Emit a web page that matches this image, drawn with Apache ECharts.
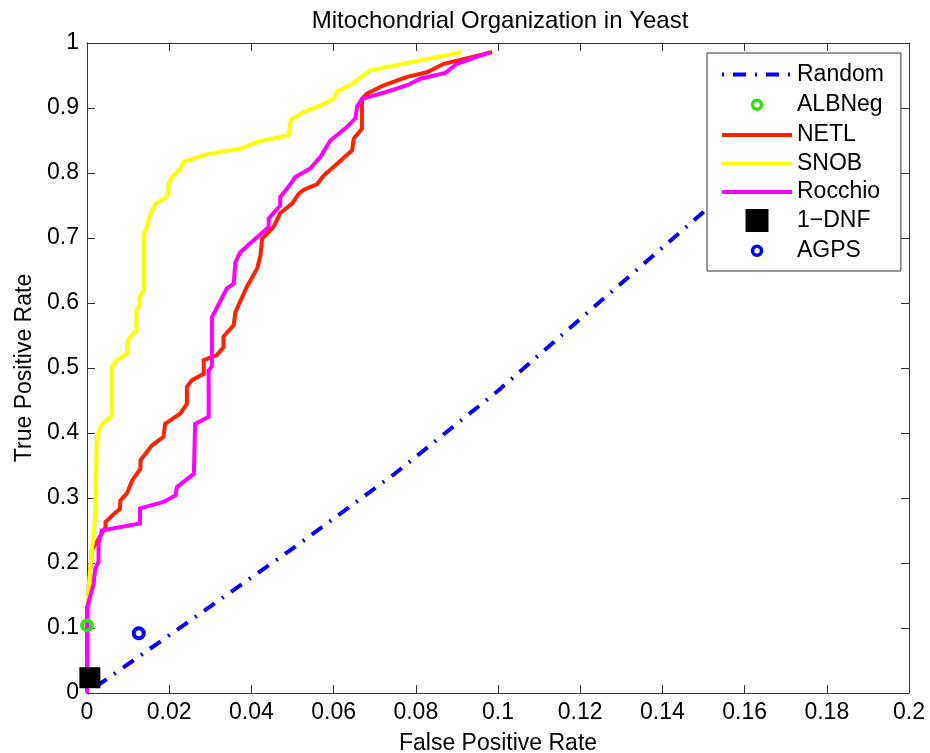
<!DOCTYPE html>
<html>
<head>
<meta charset="utf-8">
<title>Mitochondrial Organization in Yeast</title>
<script src="https://cdn.jsdelivr.net/npm/echarts@6/dist/echarts.min.js"></script>
<style>
  html, body { margin: 0; padding: 0; background: #fff; }
  #chart { width: 930px; height: 753px; }
</style>
</head>
<body>
<div id="chart"></div>
<script>
// ---- data -------------------------------------------------------------
const seriesNames = ['Random', 'ALBNeg', 'NETL', 'SNOB', 'Rocchio', '1\u2212DNF', 'AGPS'];

const xTickLabels = ['0', '0.02', '0.04', '0.06', '0.08', '0.1', '0.12', '0.14', '0.16', '0.18', '0.2'];
const yTickLabels = ['0', '0.1', '0.2', '0.3', '0.4', '0.5', '0.6', '0.7', '0.8', '0.9', '1'];

// Random-classifier reference line (FPR, TPR)
const randomFpr = [0, 0.025, 0.05, 0.075, 0.1, 0.125, 0.15, 0.175];
const randomTpr = [0, 0.111, 0.222, 0.338, 0.465, 0.603, 0.74, 0.885];

// ROC curves as [FPR, TPR] pairs
const netlRoc = [
  [0, 0], [0.0004, 0.163], [0.0012, 0.22], [0.0045, 0.255], [0.0045, 0.263],
  [0.007, 0.278], [0.008, 0.283], [0.0081, 0.296], [0.0097, 0.307], [0.011, 0.327],
  [0.013, 0.345], [0.013, 0.358], [0.0158, 0.381], [0.0186, 0.394], [0.019, 0.414],
  [0.0227, 0.43], [0.0243, 0.445], [0.0243, 0.471], [0.0255, 0.481], [0.0284, 0.491],
  [0.0284, 0.512], [0.0316, 0.52], [0.0332, 0.532], [0.0332, 0.548], [0.0357, 0.566],
  [0.0361, 0.586], [0.0389, 0.625], [0.0414, 0.653], [0.0422, 0.673], [0.0426, 0.699],
  [0.0454, 0.717], [0.047, 0.738], [0.0499, 0.753], [0.0515, 0.768], [0.0527, 0.774],
  [0.056, 0.783], [0.0576, 0.796], [0.0608, 0.814], [0.0645, 0.835], [0.0649, 0.853],
  [0.0669, 0.868], [0.0669, 0.914], [0.0681, 0.922], [0.0722, 0.935], [0.0779, 0.948],
  [0.0827, 0.955], [0.0868, 0.968], [0.0986, 0.986]
];

const snobRoc = [
  [0, 0], [0.0002, 0.142], [0.0008, 0.194], [0.0016, 0.245], [0.002, 0.276],
  [0.0024, 0.394], [0.0034, 0.412], [0.006, 0.427], [0.006, 0.502], [0.0073, 0.512],
  [0.0097, 0.522], [0.0097, 0.538], [0.0105, 0.548], [0.012, 0.558], [0.012, 0.589],
  [0.0128, 0.596], [0.0128, 0.609], [0.0138, 0.62], [0.0138, 0.707], [0.0146, 0.717],
  [0.015, 0.73], [0.0166, 0.753], [0.019, 0.761], [0.0198, 0.771], [0.0198, 0.784],
  [0.0207, 0.794], [0.0227, 0.807], [0.0235, 0.817], [0.0292, 0.829], [0.0377, 0.838],
  [0.0414, 0.848], [0.049, 0.858], [0.0496, 0.882], [0.0527, 0.894], [0.0568, 0.904],
  [0.06, 0.914], [0.0608, 0.925], [0.064, 0.935], [0.0689, 0.958], [0.0912, 0.986]
];

const rocchioRoc = [
  [0, 0], [0, 0.132], [0.0012, 0.158], [0.0016, 0.168], [0.002, 0.191],
  [0.0028, 0.202], [0.0028, 0.23], [0.0036, 0.25], [0.0129, 0.261], [0.0129, 0.284],
  [0.0186, 0.294], [0.0215, 0.304], [0.0219, 0.317], [0.026, 0.337], [0.0263, 0.414],
  [0.0296, 0.425], [0.0296, 0.496], [0.0304, 0.503], [0.0304, 0.578], [0.034, 0.622],
  [0.0357, 0.63], [0.0361, 0.663], [0.0373, 0.678], [0.0405, 0.696], [0.0442, 0.717],
  [0.0442, 0.73], [0.047, 0.75], [0.047, 0.763], [0.0487, 0.776], [0.0507, 0.794],
  [0.0543, 0.807], [0.0568, 0.825], [0.0592, 0.85], [0.0633, 0.871], [0.0653, 0.884],
  [0.0657, 0.902], [0.0669, 0.914], [0.073, 0.925], [0.0779, 0.935], [0.0811, 0.945],
  [0.0872, 0.954], [0.09, 0.968], [0.0981, 0.986]
];

// single operating points [FPR, TPR]
const albnegPoint = [[0, 0.104]];
const dnfPoint = [[0.0007, 0.0235]];
const agpsPoint = [[0.0126, 0.092]];

// ---- styling ----------------------------------------------------------
const FONT = "'Liberation Sans', Arial, Helvetica, sans-serif";
const AXIS_COLOR = '#333';
const COLORS = {
  random: '#0000ff',
  albneg: '#33e01a',
  netl: '#ff2200',
  snob: '#ffff00',
  rocchio: '#ff00ff',
  dnf: '#000000',
  agps: '#0000ff'
};

// ring drawn inside a 23x23 box so the legend keeps it small
const ringIcon = 'path://M0 0M23 23M7 11.5a4.5 4.5 0 1 0 9 0a4.5 4.5 0 1 0 -9 0Z';
const squareIcon = 'path://M0 0H1V1H0Z';

const axisCommon = {
  type: 'value',
  axisLine: { show: true, onZero: false, lineStyle: { color: AXIS_COLOR, width: 1 } },
  axisTick: { show: true, inside: true, length: 8, lineStyle: { color: AXIS_COLOR, width: 1 } },
  splitLine: { show: false },
  minorTick: { show: false }
};

const labelStyle = { fontSize: 23, color: '#000', fontFamily: FONT };

const chart = echarts.init(document.getElementById('chart'), null, { renderer: 'canvas' });

chart.setOption({
  animation: false,
  backgroundColor: '#fff',
  textStyle: { fontFamily: FONT },
  title: {
    text: 'Mitochondrial Organization in Yeast',
    left: 500,
    top: 9,
    padding: 0,
    textAlign: 'center',
    textStyle: { fontSize: 24, fontWeight: 'normal', color: '#000', fontFamily: FONT }
  },
  grid: {
    left: 87, right: 21, top: 43, bottom: 60,
    containLabel: false,
    outerBoundsMode: 'none',
    show: false
  },
  xAxis: [
    Object.assign({}, axisCommon, {
      position: 'bottom',
      min: 0, max: 0.2, interval: 0.02,
      axisLabel: Object.assign({}, labelStyle, {
        margin: 8,
        formatter: v => xTickLabels[Math.round(v / 0.02)]
      }),
      name: 'False Positive Rate',
      nameLocation: 'middle',
      nameGap: 39,
      nameTextStyle: labelStyle
    }),
    Object.assign({}, axisCommon, {
      position: 'top',
      min: 0, max: 0.2, interval: 0.02,
      axisLabel: { show: false }
    })
  ],
  yAxis: [
    Object.assign({}, axisCommon, {
      position: 'left',
      min: 0, max: 1, interval: 0.1,
      axisLabel: Object.assign({}, labelStyle, {
        margin: 8,
        formatter: v => yTickLabels[Math.round(v / 0.1)]
      }),
      name: 'True Positive Rate',
      nameLocation: 'middle',
      nameGap: 45,
      nameTextStyle: labelStyle
    }),
    Object.assign({}, axisCommon, {
      position: 'right',
      min: 0, max: 1, interval: 0.1,
      axisLabel: { show: false }
    })
  ],
  legend: {
    show: true,
    orient: 'vertical',
    left: 707,
    top: 53,
    padding: [10, 17, 7, 13],
    itemWidth: 70,
    itemHeight: 23,
    itemGap: 5.5,
    backgroundColor: '#fff',
    borderColor: AXIS_COLOR,
    borderWidth: 1,
    borderRadius: 0,
    selectedMode: false,
    textStyle: { fontSize: 23, lineHeight: 23, color: '#000', fontFamily: FONT },
    lineStyle: { width: 4 },
    data: [
      { name: seriesNames[0], itemStyle: { opacity: 0 } },
      { name: seriesNames[1], icon: ringIcon,
        itemStyle: { color: 'rgba(0,0,0,0)', borderColor: COLORS.albneg, borderWidth: 3.5, opacity: 1 } },
      { name: seriesNames[2], itemStyle: { opacity: 0 } },
      { name: seriesNames[3], itemStyle: { opacity: 0 } },
      { name: seriesNames[4], itemStyle: { opacity: 0 } },
      { name: seriesNames[5], icon: squareIcon,
        itemStyle: { color: COLORS.dnf, borderWidth: 0, opacity: 1 } },
      { name: seriesNames[6], icon: ringIcon,
        itemStyle: { color: 'rgba(0,0,0,0)', borderColor: COLORS.agps, borderWidth: 3.5, opacity: 1 } }
    ]
  },
  series: [
    {
      name: seriesNames[0],
      type: 'line',
      symbol: 'none',
      silent: true,
      data: randomFpr.map((x, i) => [x, randomTpr[i]]),
      itemStyle: { color: COLORS.random },
      lineStyle: { color: COLORS.random, width: 4, type: [13, 9, 2, 9], dashOffset: 22, cap: 'butt' },
      z: 2
    },
    {
      name: seriesNames[1],
      type: 'scatter',
      symbol: 'circle',
      symbolSize: 10,
      silent: true,
      data: albnegPoint,
      itemStyle: { color: 'rgba(0,0,0,0)', borderColor: COLORS.albneg, borderWidth: 4, opacity: 1 },
      z: 3
    },
    {
      name: seriesNames[2],
      type: 'line',
      symbol: 'none',
      silent: true,
      data: netlRoc,
      itemStyle: { color: COLORS.netl },
      lineStyle: { color: COLORS.netl, width: 4, join: 'miter' },
      z: 3
    },
    {
      name: seriesNames[3],
      type: 'line',
      symbol: 'none',
      silent: true,
      data: snobRoc,
      itemStyle: { color: COLORS.snob },
      lineStyle: { color: COLORS.snob, width: 4, join: 'miter' },
      z: 3
    },
    {
      name: seriesNames[4],
      type: 'line',
      symbol: 'none',
      silent: true,
      data: rocchioRoc,
      itemStyle: { color: COLORS.rocchio },
      lineStyle: { color: COLORS.rocchio, width: 4, join: 'miter' },
      z: 3
    },
    {
      name: seriesNames[5],
      type: 'scatter',
      symbol: 'rect',
      symbolSize: 21,
      silent: true,
      data: dnfPoint,
      itemStyle: { color: COLORS.dnf, opacity: 1 },
      z: 4
    },
    {
      name: seriesNames[6],
      type: 'scatter',
      symbol: 'circle',
      symbolSize: 10,
      silent: true,
      data: agpsPoint,
      itemStyle: { color: 'rgba(0,0,0,0)', borderColor: COLORS.agps, borderWidth: 4, opacity: 1 },
      z: 4
    }
  ]
});
</script>
</body>
</html>
